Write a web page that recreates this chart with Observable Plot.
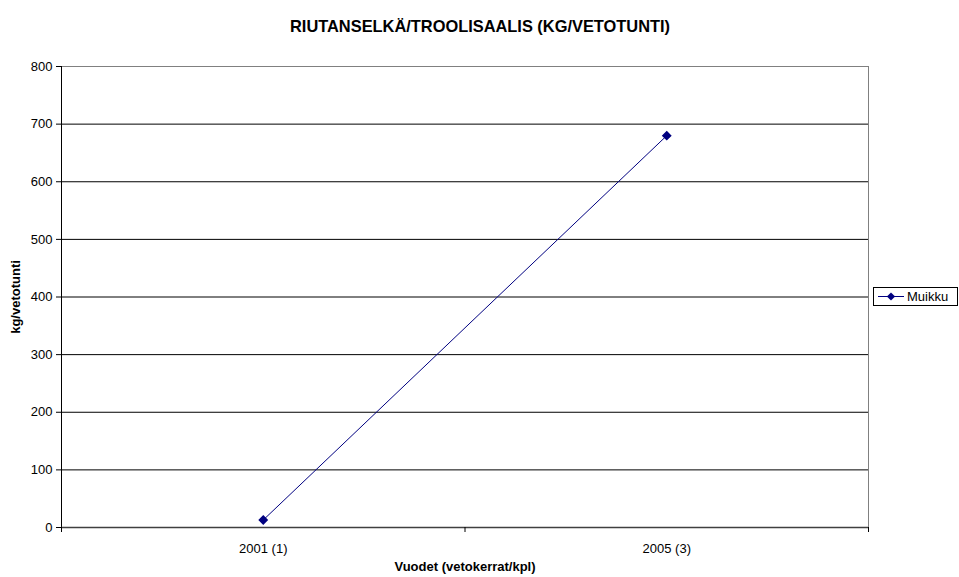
<!DOCTYPE html>
<html><head><meta charset="utf-8">
<script src="https://cdn.jsdelivr.net/npm/d3@7"></script>
<script src="https://cdn.jsdelivr.net/npm/@observablehq/plot@0.6"></script>
<style>
body{margin:0;background:#fff;font-family:"Liberation Sans",Arial,sans-serif;}
#wrap{position:relative;width:959px;height:577px;}
g[aria-label="y-axis tick label"]{font-size:13px;}
</style></head><body><div id="wrap"></div>
<script>
const title = "RIUTANSELKÄ/TROOLISAALIS (KG/VETOTUNTI)";
const categories = ["2001 (1)", "2005 (3)"];
const muikku = [13, 680];
const yTicks = [0,100,200,300,400,500,600,700,800];
const seriesName = "Muikku";
const xLabel = "Vuodet (vetokerrat/kpl)";
const yLabel = "kg/vetotunti";

const data = categories.map((c,i)=>({cat:c, idx:i+0.5, v:muikku[i]}));
const navy = "#000080";
const FF = '"Liberation Sans", Arial, sans-serif';

const chart = Plot.plot({
  width: 959, height: 577,
  marginLeft: 61, marginRight: 91, marginTop: 66, marginBottom: 50,
  style: {fontFamily: FF, fontSize: "13px", color: "#000", background: "#fff"},
  x: {type: "linear", domain: [0, categories.length], axis: null},
  y: {domain: [0, 800], axis: null},
  marks: [
    Plot.ruleY(yTicks.slice(1), {stroke: "#000", strokeWidth: 1}),
    Plot.frame({stroke: "#808080"}),
    Plot.axisY({ticks: yTicks, tickSize: 5, tickPadding: 4, label: null, stroke: "#000", fontSize: 13}),
    Plot.ruleX([0], {stroke: "#000"}),
    Plot.ruleY([0], {stroke: "#404040", strokeWidth: 1.5}),
    Plot.axisX({ticks: d3.range(categories.length+1), tickSize: 5, tickFormat: () => "", label: null}),
    Plot.text(data, {x: "idx", y: 0, text: "cat", dy: 21, fontSize: 13, fill: "#000"}),
    Plot.line(data, {x: "idx", y: "v", stroke: navy, strokeWidth: 1}),
    Plot.dot(data, {x: "idx", y: "v", symbol: "diamond2", fill: navy, stroke: navy, r: 3.5}),
    Plot.text([title], {frameAnchor: "top", dx: 15, dy: -46, fontWeight: "bold", fontSize: 16.4, fill: "#000", text: d=>d}),
    Plot.text([xLabel], {frameAnchor: "bottom", dy: 43, fontWeight: "bold", fontSize: 13, fill: "#000", text: d=>d}),
    Plot.text([yLabel], {frameAnchor: "left", dx: -46, rotate: -90, textAnchor: "middle", fontWeight: "bold", fontSize: 13, fill: "#000", text: d=>d})
  ]
});
document.getElementById("wrap").appendChild(chart);

// legend
const svg = d3.select(chart);
const lg = svg.append("g").attr("transform", "translate(873,287)");
lg.append("rect").attr("x",0.5).attr("y",0.5).attr("width",84).attr("height",18).attr("fill","#fff").attr("stroke","#000");
lg.append("line").attr("x1",5).attr("x2",31).attr("y1",9.5).attr("y2",9.5).attr("stroke",navy);
lg.append("path").attr("d", d3.symbol(d3.symbolSquare, 34)()).attr("transform","translate(18,9.5) rotate(45)").attr("fill",navy);
lg.append("text").attr("x",34).attr("y",14).attr("text-anchor","start").attr("font-size",13).attr("font-family",FF).attr("fill","#000").text(seriesName);
</script></body></html>
